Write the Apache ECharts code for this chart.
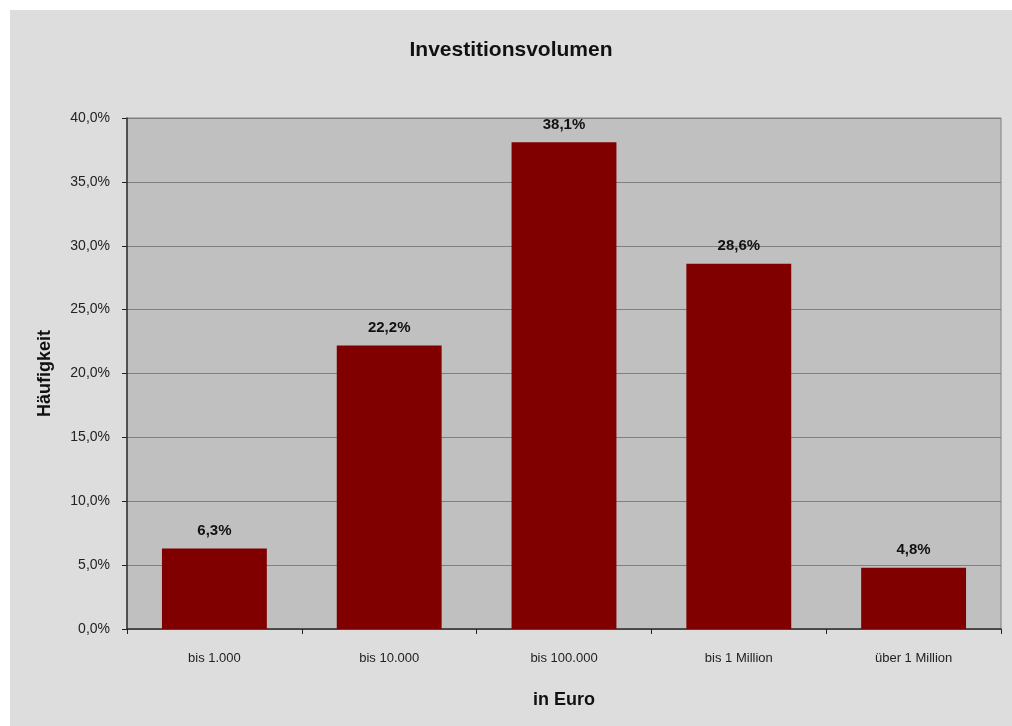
<!DOCTYPE html>
<html>
<head>
<meta charset="utf-8">
<script src="https://cdn.jsdelivr.net/npm/echarts@6/dist/echarts.min.js"></script>
<style>
  html, body { margin: 0; padding: 0; background: #ffffff; }
  #chart { position: absolute; left: 10px; top: 10px; width: 1002px; height: 716px; }
</style>
</head>
<body>
<div id="chart"></div>
<script>
const categories = ['bis 1.000', 'bis 10.000', 'bis 100.000', 'bis 1 Million', 'über 1 Million']
const values = [6.3, 22.2, 38.1, 28.6, 4.8]

const fmt = v => v.toFixed(1).replace('.', ',') + '%'
const font = '"Liberation Sans", Arial, sans-serif'

const chart = echarts.init(document.getElementById('chart'))
chart.setOption({
  backgroundColor: '#dddddd',
  animation: false,
  title: {
    text: 'Investitionsvolumen',
    left: 'center',
    top: 25,
    textStyle: { fontFamily: font, fontSize: 21, fontWeight: 'bold', color: '#111' }
  },
  grid: {
    left: 117, top: 108, right: 11, bottom: 97,
    show: true,
    backgroundColor: '#c0c0c0',
    borderColor: '#808080',
    borderWidth: 1
  },
  xAxis: {
    type: 'category',
    data: categories,
    name: 'in Euro',
    nameLocation: 'middle',
    nameGap: 62,
    nameTextStyle: { fontFamily: font, fontSize: 18, fontWeight: 'bold', color: '#111' },
    axisLine: { lineStyle: { color: '#333', width: 1.5 } },
    axisTick: { show: true, length: 5, lineStyle: { color: '#222' } },
    axisLabel: { fontFamily: font, fontSize: 13, color: '#222', margin: 23 }
  },
  yAxis: {
    type: 'value',
    min: 0, max: 40, interval: 5,
    name: 'Häufigkeit',
    nameLocation: 'middle',
    nameGap: 73,
    nameRotate: 90,
    nameTextStyle: { fontFamily: font, fontSize: 18, fontWeight: 'bold', color: '#111' },
    axisLine: { show: true, lineStyle: { color: '#333', width: 1.5 } },
    axisTick: { show: true, length: 5, lineStyle: { color: '#222' } },
    axisLabel: { fontFamily: font, fontSize: 14, color: '#222', margin: 17, formatter: v => fmt(v) },
    splitLine: { lineStyle: { color: '#808080', width: 1 } }
  },
  series: [{
    type: 'bar',
    data: values,
    barCategoryGap: '40%',
    itemStyle: { color: '#800000' },
    label: {
      show: true,
      position: 'top',
      distance: 10,
      fontFamily: font,
      fontSize: 15,
      fontWeight: 'bold',
      color: '#111',
      formatter: p => fmt(p.value)
    }
  }]
})
</script>
</body>
</html>
